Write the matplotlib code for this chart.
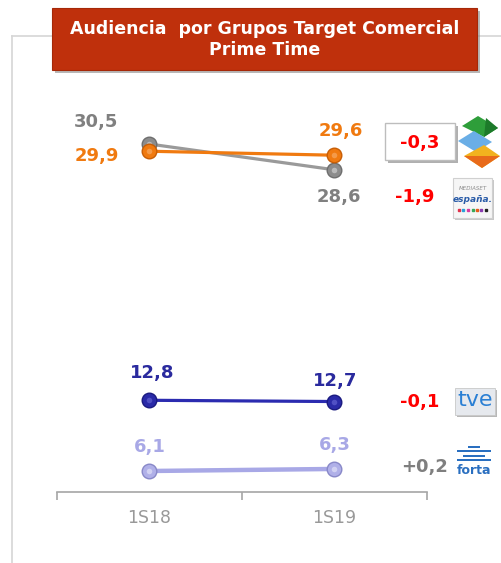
import numpy as np
import matplotlib
matplotlib.use("Agg")
import matplotlib.pyplot as plt
from matplotlib.patches import Rectangle, Polygon
from matplotlib.lines import Line2D

# datos
periodos = ["1S18", "1S19"]
mediaset = [30.5, 28.6]
atresmedia = [29.9, 29.6]
tve = [12.8, 12.7]
forta = [6.1, 6.3]
dif_atres = "-0,3"
dif_mediaset = "-1,9"
dif_tve = "-0,1"
dif_forta = "+0,2"

W, H = 502, 563
fig = plt.figure(figsize=(W / 100, H / 100), dpi=100)
fig.patch.set_facecolor("white")


def px(x, y):
    # pixel (desde arriba-izquierda) -> coordenadas de figura
    return x / W, 1 - y / H


def ftext(x, y, s, **kw):
    fx, fy = px(x, y)
    fig.text(fx, fy, s, ha="center", va="center", zorder=7, **kw)


def frect(x0, y0, x1, y1, **kw):
    fx0, fy1 = px(x0, y1)
    r = Rectangle((fx0, fy1), (x1 - x0) / W, (y1 - y0) / H, transform=fig.transFigure, **kw)
    fig.add_artist(r)


def fpoly(pts, **kw):
    p = Polygon([px(a, b) for a, b in pts], closed=True, transform=fig.transFigure, **kw)
    fig.add_artist(p)


# marco de la diapositiva
fig.add_artist(Line2D([12 / W, 12 / W], [0, 1 - 36 / H], color="#d6d6d6", lw=1.2, zorder=1))
fig.add_artist(Line2D([12 / W, 1], [1 - 36 / H, 1 - 36 / H], color="#d6d6d6", lw=1.2, zorder=1))

# escala del eje y (no lineal, como en el original)
kv = [0, 6.2, 12.75, 29.75, 45]
kp = [-40, 22, 91, 339, 522]


def fwd(v):
    return np.interp(v, kv, kp)


def inv(p):
    return np.interp(p, kp, kv)


ax = fig.add_axes([57 / W, 1 - 492 / H, 370 / W, 392 / H])
ax.set_yscale("function", functions=(fwd, inv))
ax.set_xlim(-0.5, 1.5)
ax.set_ylim(4.0, 34.17)
ax.patch.set_alpha(0)

x = np.arange(len(periodos))


def serie(vals, line_c, face_c, edge_c, hi_c, lw, z):
    ax.plot(x, vals, color=line_c, lw=lw, zorder=z, solid_capstyle="butt")
    ax.plot(x, vals, "o", ms=10.5, mfc=face_c, mec=edge_c, mew=1, zorder=z + 0.5)
    ax.plot(x, vals, "o", ms=4, mfc=hi_c, mec="none", alpha=0.6, zorder=z + 0.6)


serie(mediaset, "#9a9a9a", "#8c8c8c", "#6e6e6e", "#d8d8d8", 2.3, 3)
serie(atresmedia, "#f07a10", "#f07a10", "#c85e05", "#f8b070", 2.3, 4)
serie(tve, "#2b2bb0", "#2a2aa8", "#1a1a80", "#6a6ad8", 2.3, 3)
serie(forta, "#a8a8e6", "#b0b0e8", "#8888c8", "#e8e8fa", 3.2, 3)


# etiquetas de valores
def etiqueta(xi, v, dx, dy, color):
    ax.annotate(f"{v:.1f}".replace(".", ","), (xi, v), xytext=(dx, dy),
                textcoords="offset pixels", ha="center", va="center",
                fontsize=13, fontweight="bold", color=color, zorder=6)


etiqueta(0, mediaset[0], -53, 22, "#808080")
etiqueta(1, mediaset[1], 4, -27, "#808080")
etiqueta(0, atresmedia[0], -53, -5, "#f07a10")
etiqueta(1, atresmedia[1], 6, 24, "#f07a10")
etiqueta(0, tve[0], 3, 27, "#2a2a9e")
etiqueta(1, tve[1], 1, 21, "#2a2a9e")
etiqueta(0, forta[0], 0, 24, "#a8a8e6")
etiqueta(1, forta[1], 0, 24, "#a8a8e6")

# eje x
for s in ["top", "right", "left"]:
    ax.spines[s].set_visible(False)
ax.spines["bottom"].set_color("#a6a6a6")
ax.spines["bottom"].set_linewidth(1.2)
ax.set_yticks([])
ax.set_xticks([-0.5, 0.5, 1.5])
ax.set_xticklabels([])
ax.set_xticks(x, minor=True)
ax.set_xticklabels(periodos, minor=True, fontsize=12.5, color="#999999")
ax.tick_params(axis="x", which="major", direction="out", length=6, color="#a6a6a6", width=1.2)
ax.tick_params(axis="x", which="minor", length=0, pad=12)

# titulo
frect(55, 11, 480, 73, facecolor="#8a8a8a", edgecolor="none", alpha=0.6, zorder=5)
frect(52, 8, 477, 70, facecolor="#bf300c", edgecolor="#a52808", lw=0.8, zorder=6)
ftext(264.5, 29, "Audiencia  por Grupos Target Comercial", fontsize=12.5, fontweight="bold", color="white")
ftext(264.5, 50, "Prime Time", fontsize=12.5, fontweight="bold", color="white")

# diferencias
frect(388, 126, 458, 163, facecolor="#b0b0b0", edgecolor="none")
frect(385, 123, 455, 160, facecolor="white", edgecolor="#bdbdbd", lw=1)
ftext(420, 143, dif_atres, fontsize=13, fontweight="bold", color="#ff0000")
ftext(415, 197, dif_mediaset, fontsize=13, fontweight="bold", color="#ff0000")
ftext(420, 402, dif_tve, fontsize=13, fontweight="bold", color="#ff0000")
ftext(425, 467, dif_forta, fontsize=13, fontweight="bold", color="#7f7f7f")

# logo atresmedia (rombos)
fpoly([(478, 116), (498, 128), (484, 137), (462, 126)], facecolor="#2e9e3a", edgecolor="none")
fpoly([(486, 118), (498, 128), (484, 137)], facecolor="#1d7a2a", edgecolor="none")
fpoly([(474, 131), (492, 142), (476, 152), (458, 141)], facecolor="#6aaee6", edgecolor="none")
fpoly([(484, 145), (500, 156), (482, 168), (464, 156)], facecolor="#f2b21e", edgecolor="none")
fpoly([(500, 156), (482, 168), (464, 156)], facecolor="#e86a1a", edgecolor="none")

# logo mediaset espana
frect(455, 180, 494, 220, facecolor="#c8c8c8", edgecolor="none")
frect(453, 178, 492, 218, facecolor="#f6f6f6", edgecolor="#d0d0d0", lw=0.8)
ftext(472.5, 189, "MEDIASET", fontsize=4, color="#8a8a8a", style="italic")
ftext(472.5, 199, "españa.", fontsize=6.5, color="#2a5ca8", style="italic", fontweight="bold")
for i, c in enumerate(["#e0304a", "#2aa0d8", "#d83aa0", "#3aa858", "#e85a1a", "#8a3ab0", "#202020"]):
    fx, fy = px(459 + i * 4.5, 210)
    fig.add_artist(Line2D([fx], [fy], marker="s", ms=1.6, color=c, lw=0))

# logo tve
frect(457, 390, 497, 417, facecolor="#b8b8b8", edgecolor="none")
frect(455, 388, 495, 415, facecolor="#e6e9ee", edgecolor="#c8c8c8", lw=0.6)
ftext(475, 400, "tve", fontsize=16, color="#2a7fd4")

# logo forta
for yy, w in [(446, 12), (450, 34), (455, 22), (459, 34)]:
    frect(474 - w / 2, yy, 474 + w / 2, yy + 2.2, facecolor="#2a6fc0", edgecolor="none")
ftext(474, 471, "forta", fontsize=9, fontweight="bold", color="#2a6fc0")

fig.savefig("out.png", dpi=100)
